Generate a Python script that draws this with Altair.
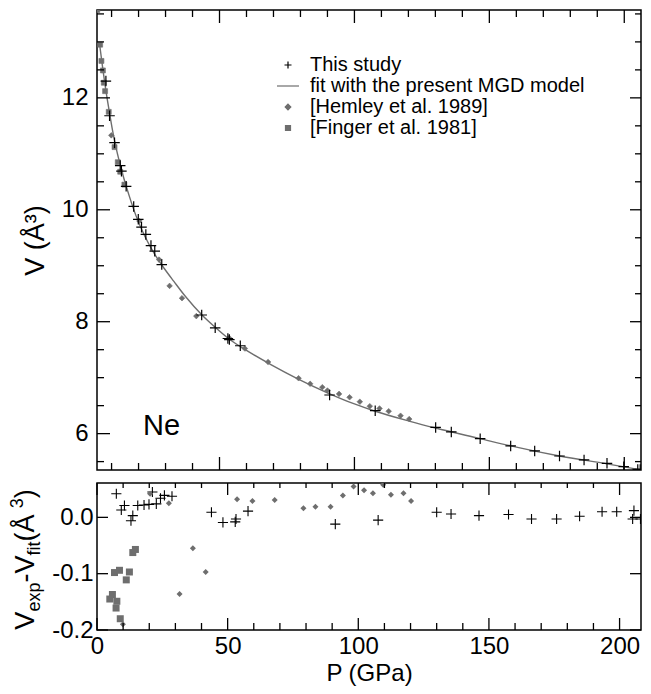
import altair as alt
import pandas as pd

# ---------------- data ----------------
# fit curve (top panel), P in GPa, V in A^3
fit_P = [5.5, 6.8, 7.8, 9.0, 10.2, 11.7, 14.1, 16.6, 19.0, 22.1, 25.8, 29.4, 33.1, 37.4,
         43.5, 48.4, 53.3, 60.6, 69.2, 79.0, 90.0, 100.0, 107.7, 120.6, 130.1, 146.6,
         157.9, 176.0, 193.6, 206.0]
fit_V = [12.98, 12.50, 12.16, 11.80, 11.46, 11.10, 10.64, 10.24, 9.90, 9.55, 9.22, 8.96,
         8.72, 8.45, 8.12, 7.90, 7.70, 7.47, 7.23, 6.98, 6.73, 6.53, 6.40, 6.22, 6.10,
         5.91, 5.78, 5.60, 5.46, 5.355]

# "This study" (top panel)
study_P_top = [7.9, 9.25, 11.1, 13.2, 13.65, 15.4, 18.2, 19.9, 21.1, 22.7, 24.6, 26.0, 28.6,
               43.4, 48.4, 53.1, 53.65, 57.7, 90.8, 107.7, 130.1, 135.9, 146.6, 157.9,
               166.8, 176.0, 185.1, 193.6, 199.8, 205.0, 205.9]
study_V_top = [12.30, 11.68, 11.20, 10.79, 10.69, 10.42, 10.06, 9.83, 9.69, 9.56, 9.36, 9.26,
               9.02, 8.12, 7.89, 7.70, 7.68, 7.57, 6.69, 6.41, 6.11, 6.03, 5.91, 5.78,
               5.69, 5.60, 5.53, 5.47, 5.41, 5.36, 5.36]

# Hemley et al. 1989 (top panel)
hem_P_top = [9.9, 20.3, 27.6, 31.5, 36.1, 41.4, 53.6, 59.4, 68.0, 79.3, 83.6, 88.1, 90.0,
             94.3, 98.2, 102.0, 105.7, 109.3, 112.7, 117.1, 120.3]
hem_V_top = [11.33, 9.80, 9.11, 8.64, 8.42, 8.10, 7.71, 7.52, 7.28, 6.99, 6.89, 6.83, 6.77,
             6.71, 6.65, 6.57, 6.49, 6.45, 6.40, 6.32, 6.26]

# Finger et al. 1981 (top panel)
fin_P_top = [4.7, 5.76, 6.24, 6.79, 7.12, 7.6, 8.95, 11.1, 12.3, 13.2, 14.75]
fin_V_top = [13.57, 12.95, 12.66, 12.49, 12.27, 12.12, 11.75, 11.12, 10.85, 10.68, 10.45]

# residuals (bottom panel)
study_P_bot = [7.4, 9.3, 10.5, 13.0, 13.7, 15.6, 18.0, 19.9, 21.2, 22.7, 24.3, 25.8, 28.7,
               43.8, 48.2, 52.9, 53.2, 57.8, 91.2, 107.6, 130.0, 135.5, 146.2, 157.5,
               166.3, 175.9, 184.7, 193.3, 198.9, 205.0, 205.5, 208.0]
study_R_bot = [0.042, 0.013, 0.021, -0.006, 0.003, 0.021, 0.022, 0.023, 0.045, 0.024, 0.034,
               0.039, 0.0375, 0.009, -0.009, -0.008, -0.003, 0.011, -0.012, -0.005, 0.009,
               0.006, 0.003, 0.005, -0.003, -0.003, 0.002, 0.010, 0.010, -0.003, 0.012,
               -0.003]

hem_P_bot = [9.9, 20.3, 27.5, 31.6, 36.7, 41.6, 53.6, 59.5, 68.0, 79.0, 83.6, 89.4, 94.1,
             98.2, 102.2, 105.6, 109.5, 112.5, 117.3, 120.2]
hem_R_bot = [-0.19, 0.042, 0.025, -0.136, -0.055, -0.097, 0.032, 0.029, 0.031, 0.016, 0.019,
             0.019, 0.039, 0.055, 0.048, 0.043, 0.058, 0.040, 0.043, 0.029]

fin_P_bot = [4.9, 5.9, 6.7, 7.3, 7.6, 8.6, 8.9, 11.2, 12.4, 13.7, 14.7]
fin_R_bot = [-0.145, -0.137, -0.098, -0.161, -0.149, -0.094, -0.180, -0.111, -0.097,
             -0.0625, -0.057]

series_names = ["This study", "fit with the present MGD model",
                "[Hemley et al. 1989]", "[Finger et al. 1981]"]

# tick values
top_x_major = [50, 100, 150, 200]
x_minor = [10, 20, 30, 40, 60, 70, 80, 90, 110, 120, 130, 140, 160, 170, 180, 190]
top_y_major = [6, 8, 10, 12]
top_y_minor = [5.5, 6.5, 7, 7.5, 8.5, 9, 9.5, 10.5, 11, 11.5, 12.5, 13, 13.5]
bot_x_major = [0, 50, 100, 150, 200]
bot_y_major = [-0.2, -0.1, 0.0]

# ---------------- styling ----------------
FONT = "Liberation Sans"
GRAY = "#6e6e6e"
# symbol paths (unit = sqrt(size)/2 px)
PLUS_P = "M-0.7,0H0.7M0,-0.7V0.7"
LINE_P = "M-2.2,0H2.2"
DIAM_P = "M0,-0.56L0.56,0L0,0.56L-0.56,0Z"
SQR_P = "M-0.5,-0.5H0.5V0.5H-0.5Z"
W = 544
H_TOP = 460
H_BOT = 147

xs_top = alt.Scale(domain=[4.6, 206.2], nice=False, zero=False)
ys_top = alt.Scale(domain=[5.35, 13.57], nice=False, zero=False)
xs_bot = alt.Scale(domain=[0, 208.2], nice=False, zero=False)
ys_bot = alt.Scale(domain=[-0.2, 0.061], nice=False, zero=False)

label_style = dict(labelFont=FONT, labelFontSize=24, labelColor="black",
                   labelOverlap=False, labelFlush=False, ticks=False, domain=False,
                   grid=False)
title_style = dict(titleFont=FONT, titleFontWeight="normal", titleColor="black")

neg_fmt = "datum.value < 0 ? '-' + format(-datum.value, '.1f') : format(datum.value, '.1f')"

# one axis definition per channel, shared by every layer of a panel
AX_TOP_Y = alt.Axis(values=top_y_major, labelPadding=9, title="V (Å³)", titleFontSize=27,
                    titlePadding=12, **label_style, **title_style)
AX_BOT_X = alt.Axis(values=bot_x_major, labelPadding=4, title="P (GPa)", titleFontSize=24,
                    titlePadding=3, **label_style, **title_style)
AX_BOT_Y = alt.Axis(values=bot_y_major, labelPadding=4, labelExpr=neg_fmt, title=None,
                    **label_style)


def ticks_x(values, scale, axis, h, length, at_top):
    """inward tick marks along the bottom or top edge, placed by the x scale"""
    y0 = 0 if at_top else h
    y1 = length if at_top else h - length
    return alt.Chart(pd.DataFrame({"t": values})).mark_rule(
        color="black", strokeWidth=1.3).encode(
        x=alt.X("t:Q", scale=scale, axis=axis), y=alt.value(y0), y2=alt.value(y1))


def ticks_y(values, scale, axis, w, length, at_right):
    """inward tick marks along the left or right edge, placed by the y scale"""
    x0 = w if at_right else 0
    x1 = w - length if at_right else length
    return alt.Chart(pd.DataFrame({"t": values})).mark_rule(
        color="black", strokeWidth=1.3).encode(
        y=alt.Y("t:Q", scale=scale, axis=axis), x=alt.value(x0), x2=alt.value(x1))


legend = alt.Legend(title=None, orient="none", legendX=181, legendY=45,
                    labelFont=FONT, labelFontSize=20, labelColor="black", labelLimit=0,
                    symbolSize=100, symbolStrokeWidth=1.2, rowPadding=1, labelOffset=12,
                    padding=0)

shape_scale = alt.Scale(domain=series_names, range=[PLUS_P, LINE_P, DIAM_P, SQR_P])
fill_scale = alt.Scale(domain=series_names, range=["black", GRAY, GRAY, GRAY])
stroke_scale = alt.Scale(domain=series_names, range=["black", GRAY, GRAY, GRAY])


def series_enc():
    return dict(
        shape=alt.Shape("series:N", scale=shape_scale, legend=legend),
        fill=alt.Fill("series:N", scale=fill_scale, legend=legend),
        stroke=alt.Stroke("series:N", scale=stroke_scale, legend=legend),
    )


def top_xy():
    return dict(x=alt.X("P:Q", scale=xs_top, axis=None),
                y=alt.Y("V:Q", scale=ys_top, axis=AX_TOP_Y))


df_fit = pd.DataFrame({"P": fit_P, "V": fit_V})
df_st = pd.DataFrame({"P": study_P_top, "V": study_V_top, "series": series_names[0]})
df_he = pd.DataFrame({"P": hem_P_top, "V": hem_V_top, "series": series_names[2]})
df_fi = pd.DataFrame({"P": fin_P_top, "V": fin_V_top, "series": series_names[3]})

fit_layer = alt.Chart(df_fit).mark_line(color=GRAY, strokeWidth=1.4, clip=True,
                                        interpolate="monotone").encode(**top_xy())
hem_layer = alt.Chart(df_he).mark_point(filled=True, opacity=1, strokeWidth=0.6, clip=True,
                                        size=100).encode(**top_xy(), **series_enc())
fin_layer = alt.Chart(df_fi).mark_point(filled=True, opacity=1, strokeWidth=0.6, clip=True,
                                        size=100).encode(**top_xy(), **series_enc())
st_layer = alt.Chart(df_st).mark_point(filled=True, opacity=1, strokeWidth=1.2, clip=True,
                                       size=225).encode(**top_xy(), **series_enc())
ne_layer = alt.Chart(pd.DataFrame({"t": ["Ne"]})).mark_text(
    font=FONT, fontSize=29, align="left", baseline="alphabetic", color="black"
).encode(text="t:N", x=alt.value(46), y=alt.value(425))

top_ticks = [
    ticks_x(top_x_major, xs_top, None, H_TOP, 13, False),
    ticks_x(x_minor, xs_top, None, H_TOP, 7, False),
    ticks_x(top_x_major, xs_top, None, H_TOP, 13, True),
    ticks_x(x_minor, xs_top, None, H_TOP, 7, True),
    ticks_y(top_y_major, ys_top, AX_TOP_Y, W, 13, False),
    ticks_y(top_y_minor, ys_top, AX_TOP_Y, W, 7, False),
    ticks_y(top_y_major, ys_top, AX_TOP_Y, W, 11, True),
    ticks_y(top_y_minor, ys_top, AX_TOP_Y, W, 6, True),
]

top = alt.layer(fit_layer, hem_layer, fin_layer, st_layer, ne_layer, *top_ticks).properties(
    width=W, height=H_TOP)

# ---------------- bottom panel ----------------
db_st = pd.DataFrame({"P": study_P_bot, "R": study_R_bot})
db_he = pd.DataFrame({"P": hem_P_bot, "R": hem_R_bot})
db_fi = pd.DataFrame({"P": fin_P_bot, "R": fin_R_bot})


def bot_xy():
    return dict(x=alt.X("P:Q", scale=xs_bot, axis=AX_BOT_X),
                y=alt.Y("R:Q", scale=ys_bot, axis=AX_BOT_Y))


b_st = alt.Chart(db_st).mark_point(shape=PLUS_P, size=210, stroke="black", strokeWidth=1.1,
                                   opacity=1, filled=False, clip=True).encode(**bot_xy())
b_he = alt.Chart(db_he).mark_point(shape=DIAM_P, size=115, filled=True, color=GRAY,
                                   opacity=1, clip=True).encode(**bot_xy())
b_fi = alt.Chart(db_fi).mark_point(shape=SQR_P, size=196, filled=True, color=GRAY,
                                   opacity=1, clip=True).encode(**bot_xy())

bot_ticks = [
    ticks_x(bot_x_major, xs_bot, AX_BOT_X, H_BOT, 12, False),
    ticks_x(x_minor, xs_bot, AX_BOT_X, H_BOT, 7, False),
    ticks_x(bot_x_major, xs_bot, AX_BOT_X, H_BOT, 12, True),
    ticks_x(x_minor, xs_bot, AX_BOT_X, H_BOT, 5, True),
    ticks_y(bot_y_major, ys_bot, AX_BOT_Y, W, 11, False),
    ticks_y(bot_y_major, ys_bot, AX_BOT_Y, W, 11, True),
]

# y title of the residual panel, composed of pieces (sub/superscripts)
CHAR_W = {"V": 0.667, "e": 0.556, "x": 0.5, "p": 0.556, "-": 0.333, "f": 0.278,
          "i": 0.222, "t": 0.278, " ": 0.278, "(": 0.333, "Å": 0.62, "3": 0.556,
          ")": 0.333}
LARGE, SMALL = 27, 18
BASE_X = -63
title_pieces = [("V", LARGE, 0), ("exp", SMALL, 6), ("-V", LARGE, 0), ("fit", SMALL, 6),
                (" (Å", LARGE, 0), ("3", SMALL, -11), (")", LARGE, 0)]
total = sum(sum(CHAR_W[c] for c in t) * fs for t, fs, _ in title_pieces)
pos = H_BOT / 2 + 3 + total / 2
title_layers = []
for txt, fs, shift in title_pieces:
    title_layers.append(
        alt.Chart(pd.DataFrame({"t": [txt]})).mark_text(
            font=FONT, fontSize=fs, angle=270, align="left", baseline="alphabetic",
            color="black"
        ).encode(text="t:N", x=alt.value(BASE_X + shift), y=alt.value(pos))
    )
    pos -= sum(CHAR_W[c] for c in txt) * fs

bottom = alt.layer(b_st, b_he, b_fi, *bot_ticks, *title_layers).properties(
    width=W, height=H_BOT)

chart = alt.vconcat(top, bottom, spacing=13, bounds="flush").resolve_scale(
    x="independent", y="independent", shape="independent", fill="independent",
    stroke="independent"
).properties(padding=0).configure_view(stroke="black", strokeWidth=1.5)

chart.save("out.html", embed_options={"renderer": "svg", "actions": False})
